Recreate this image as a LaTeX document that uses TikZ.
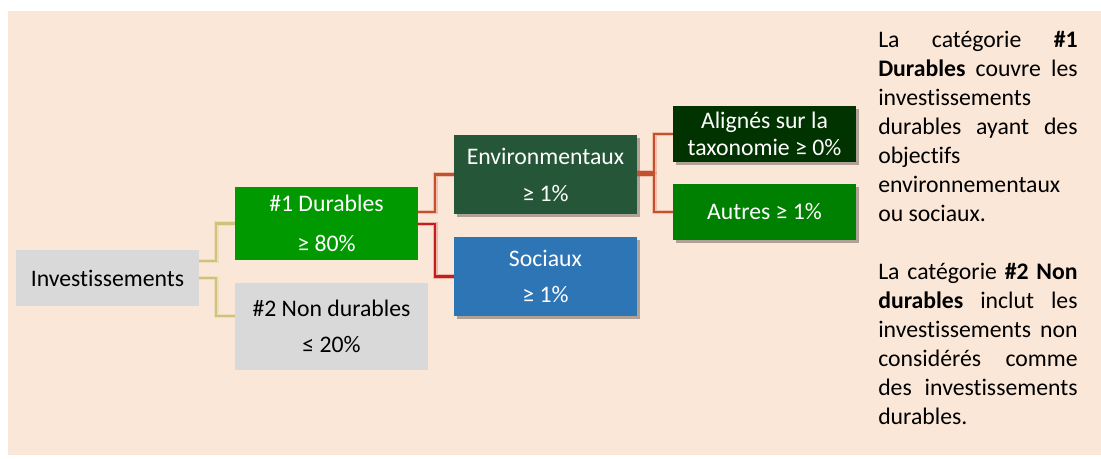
\documentclass[tikz,border=0pt]{standalone}
\usepackage{fontspec}
\setmainfont{Carlito}[Ligatures=NoCommon]
\usetikzlibrary{shadows,calc}
\definecolor{peach}{HTML}{FBE7D7}
\definecolor{boxgray}{HTML}{D9D9D9}
\definecolor{durgreen}{HTML}{009900}
\definecolor{envgreen}{HTML}{265638}
\definecolor{socblue}{HTML}{2E75B6}
\definecolor{aligreen}{HTML}{013301}
\definecolor{autgreen}{HTML}{008000}
\definecolor{khaki}{HTML}{D2C17A}
\definecolor{orangered}{HTML}{C5502F}
\definecolor{darkred}{HTML}{C41E1E}
\begin{document}
\begin{tikzpicture}[x=0.75pt,y=-0.75pt,
  box/.style={rectangle, inner sep=0pt, align=center, minimum width=137.25pt},
  shad/.style={drop shadow={shadow xshift=2.5pt, shadow yshift=-2.5pt, opacity=0.3, fill=black}},
  cline/.style={draw=#1, line width=1.8pt, preaction={draw=#1, line width=3.6pt, opacity=0.25}},
  txt/.style={font=\fontsize{17.8}{#1}\selectfont}
]
\useasboundingbox (0,0) rectangle (1101,459);
\fill[peach] (8,11) rectangle (1101,455);

\node[box, txt=21pt, fill=boxgray, minimum height=42pt] (inv) at (107.5,278) {Investissements};
\node[box, txt=30pt, fill=durgreen, text=white, minimum height=54.75pt] (d1) at (326.5,223.5) {\#1 Durables\\≥ 80\%};
\node[box, txt=27.5pt, fill=boxgray, minimum width=144.75pt, minimum height=65.25pt] (d2) at (331.5,326.5) {\#2 Non durables\\≤ 20\%};
\node[box, shad, txt=27.75pt, fill=envgreen, text=white, minimum height=59.25pt] (env) at (545.5,174.5) {Environmentaux\\≥ 1\%};
\node[box, shad, txt=27pt, fill=socblue, text=white, minimum height=59.25pt] (soc) at (545.5,276.5) {Sociaux\\≥ 1\%};
\node[box, shad, txt=20pt, fill=aligreen, text=white, minimum height=42pt] (ali) at (764.5,134) {Alignés sur la\\taxonomie ≥ 0\%};
\node[box, shad, txt=20pt, fill=autgreen, text=white, minimum height=42pt] (aut) at (764.5,212) {Autres ≥ 1\%};

\draw[cline=khaki] ($(inv.east)+(0,-17)$) -- ++(17,0) |- (d1.west);
\draw[cline=khaki] (inv.east) -- ++(17,0) |- ($(d2.west)+(0,-10.5)$);
\draw[cline=orangered] ($(d1.east)+(0,-11.5)$) -- ++(17,0) |- (env.west);
\draw[cline=darkred] ($(d1.east)+(0,0.5)$) -- ++(17,0) |- (soc.west);
\draw[cline=orangered] ($(env.east)+(0,-2.5)$) -- ++(17,0) |- (ali.west);
\draw[cline=orangered] (env.east) -- ++(17,0) |- (aut.west);

\node[anchor=base west, inner sep=0pt] (note) at (878,48) {\parbox[t]{149.5pt}{\fontsize{17.8}{21.75}\selectfont
\makebox[\linewidth][s]{La catégorie \textbf{\#1}}\\
\makebox[\linewidth][s]{\textbf{Durables} couvre les}\\
investissements\\
\makebox[\linewidth][s]{durables ayant des}\\
objectifs\\
environnementaux\\
ou sociaux.\\
\mbox{}\\
\makebox[\linewidth][s]{La catégorie \textbf{\#2 Non}}\\
\makebox[\linewidth][s]{\textbf{durables} inclut les}\\
\makebox[\linewidth][s]{investissements non}\\
\makebox[\linewidth][s]{considérés comme}\\
\makebox[\linewidth][s]{des investissements}\\
durables.}};
\end{tikzpicture}
\end{document}
